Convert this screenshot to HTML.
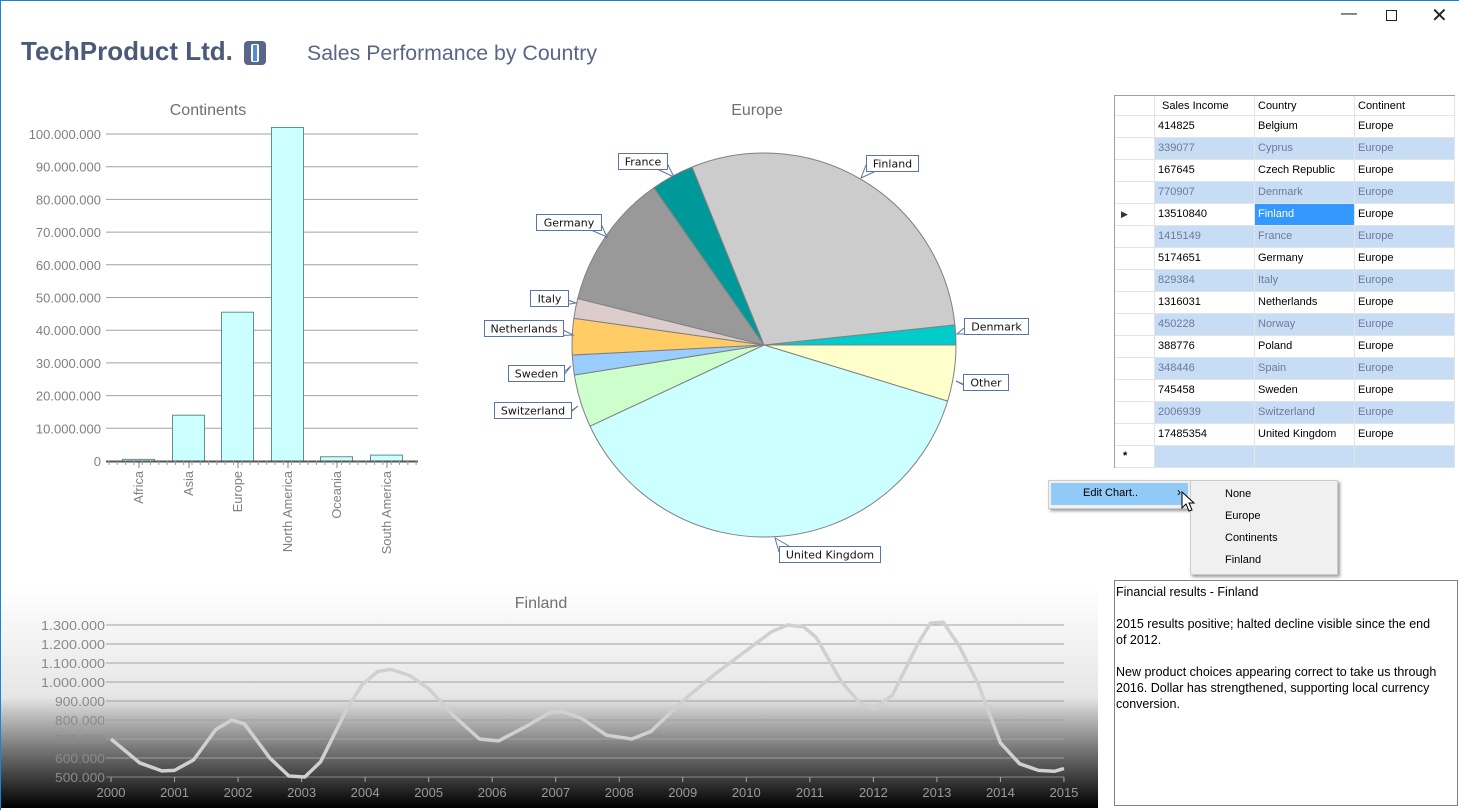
<!DOCTYPE html>
<html><head><meta charset="utf-8"><style>
*{margin:0;padding:0;box-sizing:border-box}
body{width:1459px;height:810px;background:#fff;position:relative;overflow:hidden;font-family:"Liberation Sans",sans-serif;border-top:1px solid #1883d7;border-left:1px solid #1883d7}
.abs{position:absolute}
.grid{left:1113px;top:94px;width:341px;height:373px;border:1px solid #a0a0a0;background:#fff}
.row{position:absolute;left:0;width:340px;height:22px;font-size:11px;line-height:21px}
.row div{position:absolute;top:0;height:22px;padding-left:3px;border-right:1px solid #e4e4e4;border-bottom:1px solid #e4e4e4}
.alt{color:#6e7a98}
.alt div.c{background:#c6ddf5}
.menu div{position:absolute;font-size:11px}
</style></head><body>
<div class="abs" style="left:20px;top:35px;font-size:26px;font-weight:bold;color:#4c5a7a;letter-spacing:0px">TechProduct Ltd.</div>
<div class="abs" style="left:243px;top:40px;width:22px;height:24px;border-radius:4px;background:#5a6686"><div style="position:absolute;left:7px;top:3px;width:8px;height:18px;background:#fff;border-radius:2px"></div><div style="position:absolute;left:9px;top:4px;width:4px;height:16px;background:#4a90d9"></div></div>
<div class="abs" style="left:306px;top:40px;font-size:21.3px;color:#5a6686">Sales Performance by Country</div>
<div class="abs" style="left:1340px;top:4px;font-size:16px;color:#222">&#8212;</div>
<div class="abs" style="left:1385px;top:9px;width:11px;height:11px;border:1px solid #222"></div>
<div class="abs" style="left:1430px;top:2px;font-size:20px;color:#222">&#x2715;</div>

<svg class="abs" style="left:0;top:0" width="1459" height="810" id="s">
<defs>
<linearGradient id="bg" x1="0" y1="0" x2="0" y2="1">
<stop offset="0" stop-color="#ffffff"/><stop offset="0.5" stop-color="#e6e6e6"/><stop offset="0.56" stop-color="#c8c8c8"/><stop offset="0.75" stop-color="#707070"/><stop offset="1" stop-color="#000"/></linearGradient>
</defs>
<rect x="0" y="585" width="1097" height="222" fill="url(#bg)"/>
<g font-family="Liberation Sans,sans-serif">
<text x="207" y="114" font-size="16" fill="#707070" text-anchor="middle">Continents</text>
<text x="756" y="114" font-size="16" fill="#707070" text-anchor="middle">Europe</text>
<text x="540" y="607" font-size="16" fill="#707070" text-anchor="middle">Finland</text>
</g>
<g id="bar"></g><g id="pie"></g><g id="line"></g>
</svg>

<div class="abs grid" id="grid"></div>

<div class="abs" style="left:1047px;top:479px;width:144px;height:29px;background:#f0f0f0;border:1px solid #ccc;box-shadow:2px 2px 3px #999"></div>
<div class="abs" style="left:1050px;top:482px;width:137px;height:22px;background:#91c9f7"></div>
<div class="abs" style="left:1082px;top:486px;font-size:11px">Edit Chart..</div>
<div class="abs" style="left:1176px;top:484px;font-size:12px">&#8250;</div>
<div class="abs menu" style="left:1189px;top:479px;width:148px;height:95px;background:#f0f0f0;border:1px solid #ccc;box-shadow:2px 2px 3px #999">
<div style="left:34px;top:7px">None</div><div style="left:34px;top:29px">Europe</div><div style="left:34px;top:51px">Continents</div><div style="left:34px;top:73px">Finland</div></div>
<svg class="abs" style="left:1180px;top:490px" width="16" height="24"><path d="M1 1 L1 17 L5 13 L8 20 L11 19 L8 12 L13 12 Z" fill="#fff" stroke="#000"/></svg>

<div class="abs" style="left:1113px;top:579px;width:344px;height:226px;border:1px solid #828282;padding:3px 1px;font-size:12.5px;white-space:nowrap;overflow:hidden;line-height:16px;color:#000">Financial results - Finland<br><br>2015 results positive; halted decline visible since the end<br>of 2012.<br><br>New product choices appearing correct to take us through<br>2016. Dollar has strengthened, supporting local currency<br>conversion.</div>

<script>
var NS="http://www.w3.org/2000/svg";
function el(p,t,a,txt){var e=document.createElementNS(NS,t);for(var k in a)e.setAttribute(k,a[k]);if(txt!=null)e.textContent=txt;p.appendChild(e);return e}
var b=document.getElementById('bar');
for(var i=0;i<=10;i++){var y=460-i*32.7;
 if(i>0)el(b,'line',{x1:105,x2:417,y1:y,y2:y,stroke:'#a0a0a0','stroke-width':1});
 el(b,'text',{x:100,y:y+5,'font-size':13,fill:'#808080','text-anchor':'end','font-family':'Liberation Sans'},i==0?'0':(i*10)+'.000.000');}
var bars=[['Africa',121,0.5],['Asia',171,14],['Europe',220,45.5],['North America',270,102],['Oceania',319,1.3],['South America',369,1.8]];
bars.forEach(function(d){var h=d[2]*3.27;el(b,'rect',{x:d[1]+.5,y:460-h,width:32,height:h,fill:'#ccffff',stroke:'#5f8f8f'});
 el(b,'text',{transform:'translate('+(d[1]+21)+',470) rotate(-90)','font-size':12.8,fill:'#808080','text-anchor':'end','font-family':'Liberation Sans'},d[0]);
 el(b,'line',{x1:d[1]+17,x2:d[1]+17,y1:460,y2:467,stroke:'#808080'});});
el(b,'line',{x1:105,x2:417,y1:460.5,y2:460.5,stroke:'#555','stroke-width':2});
for(var x=108;x<417;x+=8.3)el(b,'line',{x1:x,x2:x,y1:460,y2:464,stroke:'#999'});
var p=document.getElementById('pie'),cx=763,cy=344,r=192;
var sl=[[-6,0,'#00cccc'],[0,17,'#ffffcc'],[17,155,'#ccffff'],[155,171,'#ccffcc'],[171,177,'#99ccff'],[177,188,'#ffcc66'],[188,194,'#ddcccc'],[194,235,'#999999'],[235,248,'#009999'],[248,354,'#cccccc']];
sl.forEach(function(s){var a0=s[0]*Math.PI/180,a1=s[1]*Math.PI/180;
 var d='M'+cx+' '+cy+' L'+(cx+r*Math.cos(a0))+' '+(cy+r*Math.sin(a0))+' A'+r+' '+r+' 0 '+((s[1]-s[0])>180?1:0)+' 1 '+(cx+r*Math.cos(a1))+' '+(cy+r*Math.sin(a1))+' Z';
 el(p,'path',{d:d,fill:s[2],stroke:'#808080','stroke-width':1});});
var lb=[['France',617,152,49,[666,168,673,176]],['Finland',865,154,52,[865,170,860,177]],['Germany',535,213,65,[600,229,606,236]],['Italy',529,289,38,[567,305,575,302]],['Netherlands',483,319,79,[562,335,572,334]],['Sweden',507,364,56,[563,380,570,365]],['Switzerland',493,401,77,[570,417,577,405]],['Denmark',963,317,64,[963,333,956,333]],['Other',962,373,45,[962,389,955,380]],['United Kingdom',778,545,101,[778,545,774,537]]];
lb.forEach(function(l){var q=l[4];el(p,'path',{d:'M'+(q[0]-(q[0]>l[1]+5?10:-10))+' '+q[1]+' L'+q[2]+' '+q[3]+' L'+q[0]+' '+(q[1]-(q[1]>l[2]+5?6:-6)),fill:'#fff',stroke:'#5a73a8'});
 el(p,'rect',{x:l[1]+.5,y:l[2]+.5,width:l[3],height:16,fill:'#fff',stroke:'#5a73a8'});
 el(p,'text',{x:l[1]+l[3]/2+.5,y:l[2]+12.5,'font-size':11,'font-family':'DejaVu Sans','text-anchor':'middle',fill:'#111'},l[0]);});
var g=document.getElementById('line');
function X(t){return 110+(t-2000)*63.53}function Y(v){return 776-(v-500)*0.19}
for(var v=500;v<=1300;v+=100){el(g,'line',{x1:105,x2:1063,y1:Y(v),y2:Y(v),stroke:v==500?'#888':'#a0a0a0'});
 el(g,'text',{x:104,y:Y(v)+5,'font-size':13,fill:'#8a8a8a','text-anchor':'end','font-family':'Liberation Sans','textLength':(v>=1000?64:50),'lengthAdjust':'spacingAndGlyphs'},(v>=1000?'1.'+String(v-1000).padStart(3,'0'):v)+'.000');}
for(var t=2000;t<=2015;t++){el(g,'line',{x1:X(t),x2:X(t),y1:776,y2:781,stroke:'#aaa'});el(g,'text',{x:X(t),y:796,'font-size':13,fill:'#999','text-anchor':'middle','font-family':'Liberation Sans'},t);}
var pts=[[2000,700],[2000.45,575],[2000.8,532],[2001,535],[2001.3,590],[2001.65,750],[2001.9,800],[2002.1,780],[2002.5,600],[2002.8,505],[2003.05,500],[2003.3,580],[2003.7,850],[2003.95,985],[2004.2,1055],[2004.4,1067],[2004.7,1035],[2005,965],[2005.4,820],[2005.8,700],[2006.1,690],[2006.5,760],[2006.9,838],[2007.1,845],[2007.4,810],[2007.8,720],[2008.2,700],[2008.5,740],[2009,900],[2009.5,1040],[2010,1165],[2010.4,1265],[2010.65,1300],[2010.9,1290],[2011.1,1235],[2011.5,1000],[2011.8,885],[2012,860],[2012.3,930],[2012.7,1200],[2012.9,1310],[2013.1,1315],[2013.35,1190],[2013.65,990],[2014,680],[2014.3,570],[2014.6,535],[2014.85,530],[2015,545]];
var d='M'+pts.map(function(q){return X(q[0]).toFixed(1)+' '+Y(q[1]).toFixed(1)}).join(' L');
el(g,'path',{d:d,fill:'none',stroke:'#d0d0d0','stroke-width':3.5,'stroke-linejoin':'round'});
var gr=document.getElementById('grid');
var rows=[['414825','Belgium'],['339077','Cyprus'],['167645','Czech Republic'],['770907','Denmark'],['13510840','Finland'],['1415149','France'],['5174651','Germany'],['829384','Italy'],['1316031','Netherlands'],['450228','Norway'],['388776','Poland'],['348446','Spain'],['745458','Sweden'],['2006939','Switzerland'],['17485354','United Kingdom']];
var h='<div class="row" style="top:0;height:20px"><div style="left:0;width:40px;height:20px"></div><div style="left:40px;width:100px;height:20px;padding-left:7px">Sales Income</div><div style="left:140px;width:100px;height:20px">Country</div><div style="left:240px;width:100px;height:20px">Continent</div></div>';
rows.forEach(function(r,i){var alt=i%2==1,top=20+i*22,fin=i==4;
 h+='<div class="row'+(alt?' alt':'')+'" style="top:'+top+'px"><div style="left:0;width:40px;color:#333">'+(fin?'<span style="position:absolute;left:6px;font-size:9px">&#9654;</span>':'')+'</div><div class="c" style="left:40px;width:100px">'+r[0]+'</div><div class="c" style="left:140px;width:100px;'+(fin?'background:#3399ff;color:#fff':'')+'">'+r[1]+'</div><div class="c" style="left:240px;width:100px">Europe</div></div>';});
h+='<div class="row" style="top:350px"><div style="left:0;width:40px;padding-left:8px;font-weight:bold">*</div><div style="left:40px;width:100px;background:#c6ddf5"></div><div style="left:140px;width:100px;background:#c6ddf5"></div><div style="left:240px;width:100px;background:#c6ddf5"></div></div>';
gr.innerHTML=h;
</script>
</body></html>
